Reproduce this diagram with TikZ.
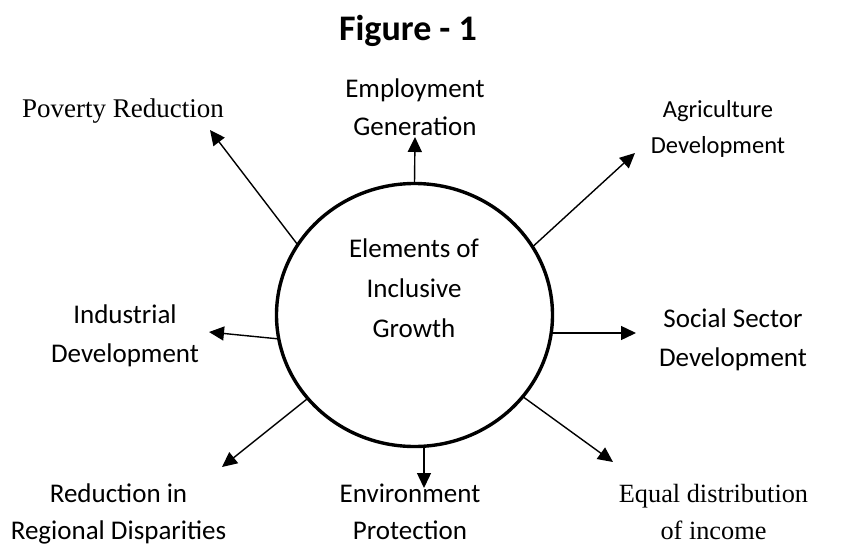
\documentclass[tikz,border=0pt]{standalone}
\usepackage{fontspec}
\setmainfont{Carlito}
\newfontfamily\timesfont{Liberation Serif}
\usetikzlibrary{arrows.meta, shapes.geometric}

\begin{document}
\begin{tikzpicture}[x=1pt, y=-1pt,
    topic/.style={align=center, inner sep=0pt, anchor=base, font=\fontsize{27}{38}\selectfont},
    spoke/.style={-{Triangle[length=15pt, width=14pt]}, line width=1.4pt}]
  \useasboundingbox (0,0) rectangle (846,544);
  % Title
  \node[font=\bfseries\fontsize{36}{40}\selectfont, anchor=base, inner sep=0pt] (title) at (408,40) {Figure - 1};
  % Centre circle
  \node[ellipse, draw, line width=3.4pt, outer sep=0pt, minimum width=276pt, minimum height=263pt, inner sep=0pt] (core) at (414.5,315) {};
  \node[topic, font=\fontsize{27}{40}\selectfont] (coretext) at (414,337) {Elements of\\Inclusive\\Growth};
  % Outer elements (anchored on the last baseline)
  \node[topic] (employ) at (415,135) {Employment\\Generation};
  \node[topic, font=\timesfont\fontsize{27}{38}\selectfont] (poverty) at (123,117) {Poverty Reduction};
  \node[topic, font=\fontsize{24.5}{36}\selectfont] (agri) at (718,153) {Agriculture\\Development};
  \node[topic, font=\fontsize{27}{39}\selectfont] (social) at (733,366) {Social Sector\\Development};
  \node[topic, font=\fontsize{27}{39}\selectfont] (industry) at (125,362) {Industrial\\Development};
  \node[topic, font=\fontsize{27}{37}\selectfont] (region) at (118.5,539) {Reduction in\\Regional Disparities};
  \node[topic, font=\fontsize{27}{37}\selectfont] (environ) at (410,539) {Environment\\Protection};
  \node[topic, font=\timesfont\fontsize{26.3}{37}\selectfont] (equal) at (713.5,539) {Equal distribution\\of income};
  % Arrow tips
  \coordinate (employTip) at (415,137);
  \coordinate (povertyTip) at (210,130);
  \coordinate (agriTip) at (635,153);
  \coordinate (socialTip) at (636,333);
  \coordinate (industryTip) at (209,332);
  \coordinate (regionTip) at (222,467);
  \coordinate (environTip) at (424,488);
  \coordinate (equalTip) at (613,462);
  % Spokes
  \foreach \ang/\tip in {90/employTip, 149.4/povertyTip, 30.4/agriTip,
      190.2/industryTip, 218.1/regionTip, -37.3/equalTip}
    \draw[spoke] (core.\ang) -- (\tip);
  \draw[spoke] (core.east |- socialTip) -- (socialTip);
  \draw[spoke] (environTip |- core.south) -- (environTip);
\end{tikzpicture}
\end{document}
